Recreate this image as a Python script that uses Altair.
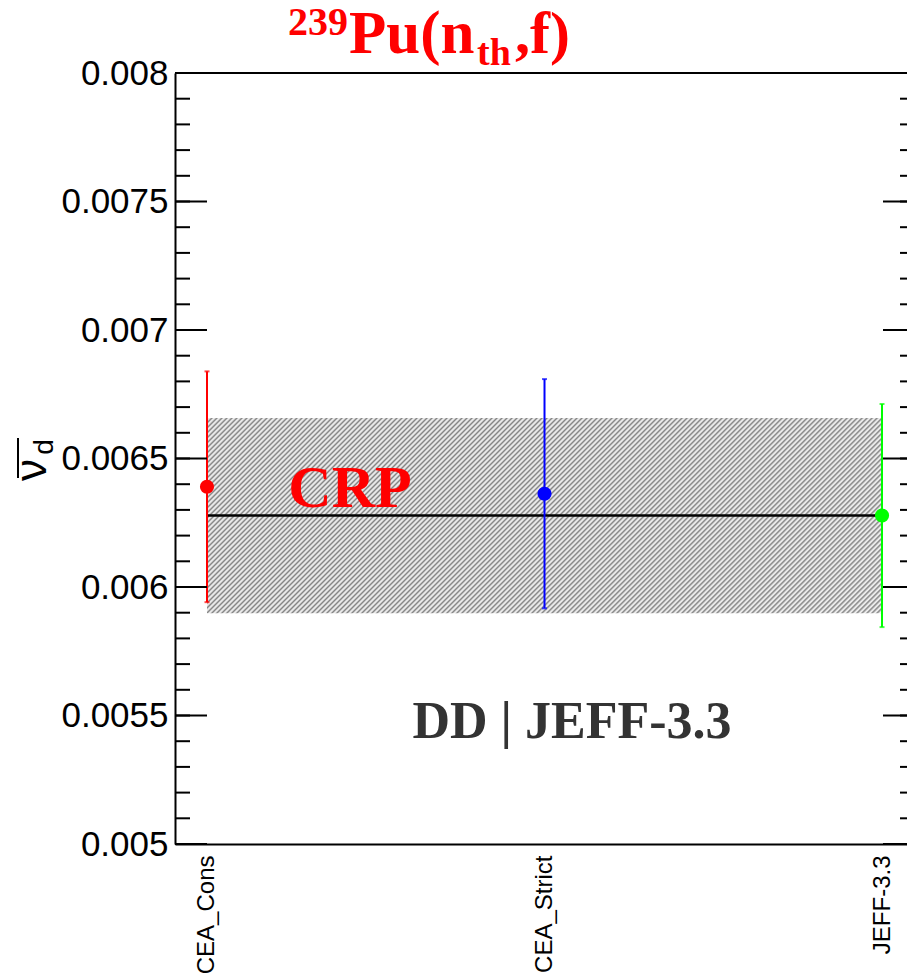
import altair as alt
import pandas as pd
import numpy as np

# ---------------- data ----------------
names = ["CEA_Cons", "CEA_Strict", "JEFF-3.3"]
positions = [0, 1, 2]
nu_d = [0.006390, 0.006363, 0.006278]
nu_d_err = [0.000449, 0.000446, 0.000434]
colors = ["#ff0000", "#0000ff", "#00ff00"]
crp_value = 0.006278
crp_err = 0.00038
y_major = [0.005, 0.0055, 0.006, 0.0065, 0.007, 0.0075, 0.008]
y_minor_step = 0.0001

# ---------------- layout ----------------
W_PLOT, H_PLOT = 732, 771
Y_DOMAIN = [0.005, 0.008]
X_DOMAIN = [-0.0948, 2.074]

df = pd.DataFrame({"name": names, "pos": positions, "v": nu_d, "err": nu_d_err})
df["lo"] = df["v"] - df["err"]
df["hi"] = df["v"] + df["err"]

crp_df = pd.DataFrame({
    "x0": [positions[0]], "x1": [positions[-1]], "v": [crp_value],
    "lo": [crp_value - crp_err], "hi": [crp_value + crp_err],
})

minor_vals = [round(Y_DOMAIN[0] + i * y_minor_step, 6)
              for i in range(int(round((Y_DOMAIN[1] - Y_DOMAIN[0]) / y_minor_step)) + 1)]
minor_df = pd.DataFrame({"t": minor_vals})
major_df = pd.DataFrame({"t": y_major})

xs = alt.Scale(domain=X_DOMAIN, nice=False, zero=False)
ys = alt.Scale(domain=Y_DOMAIN, nice=False, zero=False)

label_expr = "[" + ",".join("'%s'" % n for n in names) + "][datum.value]"
x_axis = alt.Axis(values=positions, labelExpr=label_expr, ticks=False, grid=False,
                  domain=True, domainColor="black", domainWidth=2,
                  labelAngle=270, labelAlign="right", labelBaseline="middle",
                  labelFontSize=24, labelFont="Liberation Sans", labelColor="black",
                  labelPadding=11, labelFlush=False, labelOverlap=False, title=None)
y_axis = alt.Axis(values=y_major, format="~g", ticks=False, grid=False,
                  domain=True, domainColor="black", domainWidth=2,
                  labelFontSize=35, labelFont="Liberation Sans", labelColor="black",
                  labelPadding=7, labelFlush=False, labelOverlap=False, title=None)

def X(field):
    return alt.X(field, type="quantitative", scale=xs, axis=x_axis)

def Y(field):
    return alt.Y(field, type="quantitative", scale=ys, axis=y_axis)

# hatch fill via striped linear gradient ("////" lines)
W_band = (positions[-1] - positions[0]) * W_PLOT / (X_DOMAIN[1] - X_DOMAIN[0])
H_band = 2 * crp_err * H_PLOT / (Y_DOMAIN[1] - Y_DOMAIN[0])
r = H_band / W_band
k = (W_band + H_band) / (W_band * (1 + r * r))
n_stripes = int(round((W_band + H_band) / 5.0))
stops = []
for i in range(n_stripes):
    stops.append(alt.GradientStop(offset=round(i / n_stripes, 6), color="#858585"))
    stops.append(alt.GradientStop(offset=round((i + 0.5) / n_stripes, 6), color="#ffffff"))
stops.append(alt.GradientStop(offset=1.0, color="#858585"))
hatch = alt.Gradient(gradient="linear", stops=stops, x1=0, y1=0,
                     x2=round(k, 6), y2=round(k * r, 6))

band = alt.Chart(crp_df).mark_rect(fill=hatch, strokeWidth=0).encode(
    x=X("x0"), x2="x1", y=Y("lo"), y2="hi")
crp_line = alt.Chart(crp_df).mark_rule(color="black", strokeWidth=2.5).encode(
    x=X("x0"), x2="x1", y=Y("v"))

col = alt.Color("name:N", scale=alt.Scale(domain=names, range=colors), legend=None)
bars = alt.Chart(df).mark_rule(strokeWidth=2).encode(
    x=X("pos"), y=Y("lo"), y2="hi", color=col)
caps_hi = alt.Chart(df).mark_tick(orient="horizontal", size=5, thickness=2).encode(
    x=X("pos"), y=Y("hi"), color=col)
caps_lo = alt.Chart(df).mark_tick(orient="horizontal", size=5, thickness=2).encode(
    x=X("pos"), y=Y("lo"), color=col)
points = alt.Chart(df).mark_circle(size=200, opacity=1).encode(
    x=X("pos"), y=Y("v"), color=col)

# inward ticks on left and right frame
def tick_layer(data, x0, x1):
    return alt.Chart(data).mark_rule(color="black", strokeWidth=2).encode(
        y=Y("t"), x=alt.value(x0), x2=alt.value(x1))

ticks = [
    tick_layer(major_df, 0, 32),
    tick_layer(minor_df, 0, 15),
    tick_layer(major_df, 708, W_PLOT),
    tick_layer(minor_df, 725, W_PLOT),
]

one = pd.DataFrame({"d": [0]})
top_line = alt.Chart(one).mark_rule(color="black", strokeWidth=2).encode(
    x=alt.value(0), x2=alt.value(W_PLOT), y=alt.value(0))

def txt(text, x, y, size, color, font="Liberation Serif", weight="bold", align="left",
        baseline="alphabetic", angle=0):
    return alt.Chart(pd.DataFrame({"t": [text]})).mark_text(
        font=font, fontWeight=weight, fontSize=size, color=color, align=align,
        baseline=baseline, angle=angle).encode(
        text="t:N", x=alt.value(x), y=alt.value(y))

texts = [
    txt("239", 113, -38, 40, "#ff0000"),
    txt("Pu(n", 174, -20, 61, "#ff0000"),
    txt("th", 302, -8, 38, "#ff0000"),
    txt(",f)", 340, -20, 60, "#ff0000"),
    txt("CRP", 175, 434, 60, "#ff0000", align="center"),
    txt("DD | JEFF-3.3", 397, 665, 52, "#333333", align="center"),
    txt("ν", -142, 397, 44, "black", font="Liberation Sans", weight="normal",
        align="center", baseline="middle", angle=270),
    txt("d", -130, 374, 28, "black", font="Liberation Sans", weight="normal",
        align="center", baseline="middle", angle=270),
]
overline = alt.Chart(one).mark_rule(color="black", strokeWidth=2).encode(
    x=alt.value(-157), y=alt.value(365), y2=alt.value(405))

chart = alt.layer(band, crp_line, bars, caps_hi, caps_lo, points, *ticks, top_line,
                  overline, *texts).properties(
    width=W_PLOT, height=H_PLOT,
    autosize=alt.AutoSizeParams(type="none"),
    padding={"left": 175, "top": 73, "right": 0, "bottom": 132},
).configure_view(stroke=None).configure(background="white")

chart.save("out.html", embed_options={"renderer": "svg", "actions": False})
